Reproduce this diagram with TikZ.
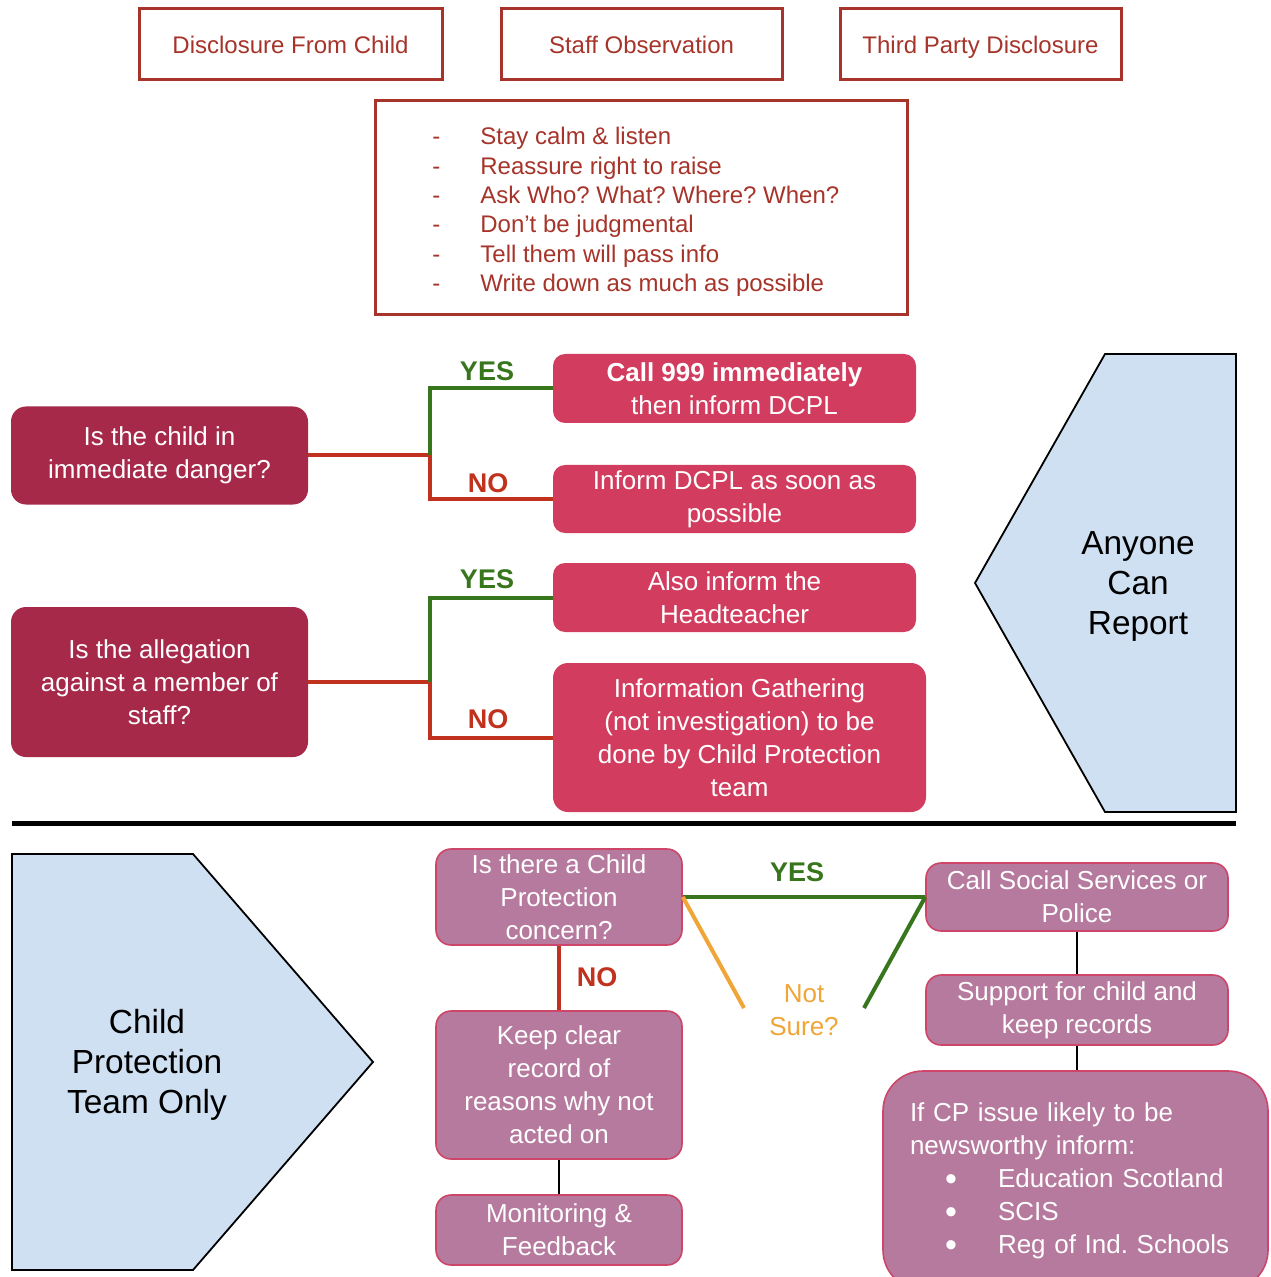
\documentclass[tikz,border=0pt]{standalone}
\usepackage{fontspec}
\setmainfont{Liberation Sans}
\frenchspacing
\definecolor{topred}{RGB}{166,52,42}
\definecolor{qred}{RGB}{166,41,74}
\definecolor{ared}{RGB}{210,60,94}
\definecolor{mauve}{RGB}{182,122,158}
\definecolor{mauveb}{RGB}{205,70,105}
\definecolor{lblue}{RGB}{207,224,242}
\definecolor{gline}{RGB}{56,118,29}
\definecolor{rline}{RGB}{192,50,30}
\definecolor{oline}{RGB}{240,165,55}
\newcommand{\cpbullet}{\hspace*{17.5pt}\makebox[26.5pt][l]{\raisebox{-1.6pt}{\fontsize{17}{16.5}\selectfont •}}}
\begin{document}
\frenchspacing
\begin{tikzpicture}[x=0.5pt,y=-0.5pt,
  topbox/.style={draw=topred, line width=1.5pt, text=topred, font=\fontsize{12}{14.6}\selectfont, minimum height=35.5pt, inner sep=0pt, text height=8.6pt, text depth=0pt},
  qbox/.style={fill=qred, rounded corners=7.5pt, text=white, font=\fontsize{13}{16.5}\selectfont, align=center, inner sep=0pt},
  abox/.style={fill=ared, rounded corners=6pt, text=white, font=\fontsize{13}{16.5}\selectfont, align=center, inner sep=0pt},
  mbox/.style={fill=mauve, draw=mauveb, line width=0.8pt, rounded corners=7.5pt, text=white, font=\fontsize{13}{16.5}\selectfont, align=center, inner sep=0pt},
  yeslbl/.style={text=gline, font=\bfseries\fontsize{13.5}{16}\selectfont},
  nolbl/.style={text=rline, font=\bfseries\fontsize{13.5}{16}\selectfont},
  gconn/.style={draw=gline, line width=2pt},
  rconn/.style={draw=rline, line width=2pt},
  oconn/.style={draw=oline, line width=2pt},
  kconn/.style={draw=black, line width=0.9pt},
  pent/.style={fill=lblue, draw=black, line width=0.9pt},
  penttext/.style={font=\fontsize{16.7}{20}\selectfont, align=center}
]
\clip (0,0) rectangle (1270,1277);
\fill[white] (0,0) rectangle (1270,1277);

% top boxes
\node[topbox, minimum width=151.5pt] (t1) at (290.5,44.5) {Disclosure From Child};
\node[topbox, minimum width=140.5pt] (t2) at (641.5,44.5) {Staff Observation};
\node[topbox, minimum width=140.5pt] (t3) at (980.5,44.5) {Third Party Disclosure};

% list box
\node[draw=topred, line width=1.5pt, minimum width=266pt, minimum height=107pt, inner sep=0pt] (list) at (641,208) {};
\node[text=topred, font=\fontsize{12}{14.65}\selectfont, align=left, anchor=west, inner sep=0pt] (listtxt) at (432,212)
 {\makebox[24pt][l]{-}Stay calm \& listen\\
  \makebox[24pt][l]{-}Reassure right to raise\\
  \makebox[24pt][l]{-}Ask Who? What? Where? When?\\
  \makebox[24pt][l]{-}Don’t be judgmental\\
  \makebox[24pt][l]{-}Tell them will pass info\\
  \makebox[24pt][l]{-}Write down as much as possible};

% first question
\node[qbox, minimum width=148.5pt, minimum height=49pt] (q1) at (159.5,455.5) {Is the child in\\immediate danger?};
\node[abox, minimum width=181.5pt, minimum height=34.5pt] (a1) at (734.5,388.5) {\textbf{Call 999 immediately}\\then inform DCPL};
\node[abox, minimum width=181.5pt, minimum height=34pt] (n1) at (734.5,499) {Inform DCPL as soon as\\possible};
\coordinate (j1) at (430,455.5);
\draw[rconn] (q1.east) -- (j1);
\draw[gconn] (j1) |- (a1.west);
\draw[rconn] (j1) |- (n1.west);
\node[yeslbl] (y1) at (487,371) {YES};
\node[nolbl] (no1) at (488,483) {NO};

% second question
\node[qbox, minimum width=148.5pt, minimum height=75pt] (q2) at (159.5,682) {Is the allegation\\against a member of\\staff?};
\node[abox, minimum width=181.5pt, minimum height=34.5pt] (a2) at (734.5,597.5) {Also inform the\\Headteacher};
\node[abox, minimum width=186.5pt, minimum height=74.5pt, rounded corners=7.5pt] (n2) at (739.5,737.5) {Information Gathering\\(not investigation) to be\\done by Child Protection\\team};
\coordinate (j2) at (430,682);
\draw[rconn] (q2.east) -- (j2);
\draw[gconn] (j2) |- (a2.west);
\draw[rconn] (j2) |- (n2.west);
\node[yeslbl] (y2) at (487,579) {YES};
\node[nolbl] (no2) at (488,719) {NO};

% anyone can report
\draw[pent] (1105,354) -- (1236,354) -- (1236,812) -- (1105,812) -- (975,583) -- cycle;
\node[penttext] (acr) at (1138,586) {Anyone\\Can\\Report};

% divider
\draw[line width=2.5pt] (12,823) -- (1236,823);

% child protection team only
\draw[pent] (12,854) -- (193,854) -- (373,1062) -- (193,1270) -- (12,1270) -- cycle;
\node[penttext] (cpt) at (147,1065) {Child\\Protection\\Team Only};

% bottom flow
\node[mbox, minimum width=123pt, minimum height=48pt] (q3) at (559,897) {Is there a Child\\Protection\\concern?};
\node[mbox, minimum width=123pt, minimum height=74pt] (keep) at (559,1085) {Keep clear\\record of\\reasons why not\\acted on};
\node[mbox, minimum width=123pt, minimum height=35pt] (mon) at (559,1230) {Monitoring \&\\Feedback};
\node[mbox, minimum width=151pt, minimum height=34pt] (call) at (1077,897) {Call Social Services or\\Police};
\node[mbox, minimum width=151pt, minimum height=35pt] (sup) at (1077,1010) {Support for child and\\keep records};
\node[mbox, minimum width=192.5pt, minimum height=109.5pt, rounded corners=20pt, align=left,
      text width=165.5pt, inner xsep=13.5pt] (cp) at (1075.5,1180.5)
 {If CP issue likely to be\\newsworthy inform:\\
  \cpbullet Education Scotland\\
  \cpbullet SCIS\\
  \cpbullet Reg of Ind. Schools};

\coordinate (ns1) at (744,1008);
\coordinate (ns2) at (864,1008);
\draw[gconn] (q3.east) -- (call.west);
\draw[oconn] (q3.east) -- (ns1);
\draw[gconn] (call.west) -- (ns2);
\draw[rconn] (q3.south) -- (keep.north);
\draw[kconn] (keep.south) -- (mon.north);
\draw[kconn] (call.south) -- (sup.north);
\draw[kconn] (sup.south) -- (cp.north -| sup.south);
\node[yeslbl] (y3) at (797,872) {YES};
\node[nolbl] (no3) at (597,977) {NO};
\node[text=oline, font=\fontsize{13}{16.5}\selectfont, align=center] (ns) at (804,1010) {Not\\Sure?};
\end{tikzpicture}
\end{document}
